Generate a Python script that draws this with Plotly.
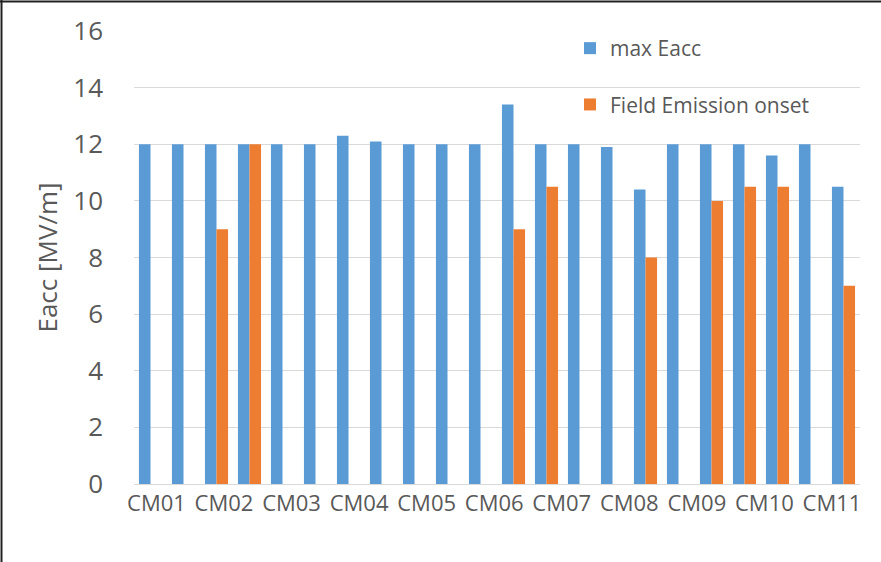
import plotly.graph_objects as go

# ---- data ----
cm_labels = ["CM01", "CM02", "CM03", "CM04", "CM05", "CM06",
             "CM07", "CM08", "CM09", "CM10", "CM11"]
positions = list(range(22))
max_eacc = [12, 12, 12, 12, 12, 12, 12.3, 12.1, 12, 12, 12,
            13.4, 12, 12, 11.9, 10.4, 12, 12, 12, 11.6, 12, 10.5]
fe_onset = [None, None, 9, 12, None, None, None, None, None, None, None,
            9, 10.5, None, None, 8, None, 10, 10.5, 10.5, None, 7]
y_ticks = [0, 2, 4, 6, 8, 10, 12, 14, 16]

BLUE = "#5B9BD5"
ORANGE = "#ED7D31"
GREY = "#595959"
FONT = "Open Sans"

W, H = 881, 562
L, R, T, B = 134, 21, 31, 78
pw, ph = W - L - R, H - T - B

fig = go.Figure()
fig.add_trace(go.Bar(x=positions, y=max_eacc, name="max Eacc",
                     marker=dict(color=BLUE, line=dict(width=0)),
                     legendgroup="a"))
fig.add_trace(go.Bar(x=positions, y=fe_onset, name="Field Emission onset",
                     marker=dict(color=ORANGE, line=dict(width=0)),
                     legendgroup="b"))

label_pos = [0.18 + 2.047 * i for i in range(len(cm_labels))]

# chart border (top and left edges)
px2x = lambda p: (p - L) / pw
px2y = lambda p: (H - B - p) / ph
fig.add_shape(type="line", xref="paper", yref="paper",
              x0=px2x(0), x1=px2x(W), y0=px2y(1.5), y1=px2y(1.5),
              line=dict(color="#222222", width=2))
fig.add_shape(type="line", xref="paper", yref="paper",
              x0=px2x(1.5), x1=px2x(1.5), y0=px2y(0), y1=px2y(H),
              line=dict(color="#222222", width=2))

fig.update_layout(
    width=W, height=H,
    margin=dict(l=L, r=R, t=T, b=B),
    paper_bgcolor="white", plot_bgcolor="white",
    barmode="group", bargap=0.3, bargroupgap=0,
    font=dict(family=FONT, color=GREY),
    showlegend=True,
    legend=dict(x=px2x(570), y=px2y(28), xanchor="left", yanchor="top",
                font=dict(size=21, color=GREY, family=FONT),
                bgcolor="rgba(0,0,0,0)", tracegroupgap=26,
                traceorder="grouped"),
    xaxis=dict(range=[-0.5, 21.5], tickmode="array",
               tickvals=label_pos, ticktext=cm_labels,
               tickfont=dict(size=22, color=GREY, family=FONT),
               showgrid=False, zeroline=False,
               showline=True, linecolor="#D9D9D9", linewidth=1,
               ticks="", ticklabelstandoff=0),
    yaxis=dict(range=[0, 16], tickmode="array", tickvals=y_ticks,
               tickfont=dict(size=26, color=GREY, family=FONT),
               showgrid=True, gridcolor="#D9D9D9", gridwidth=1,
               zeroline=False, showline=False, ticks="",
               ticklabelstandoff=30,
               title=dict(text="Eacc [MV/m]", standoff=8,
                          font=dict(size=26, color=GREY, family=FONT))),
)

fig.write_html("out.html")
